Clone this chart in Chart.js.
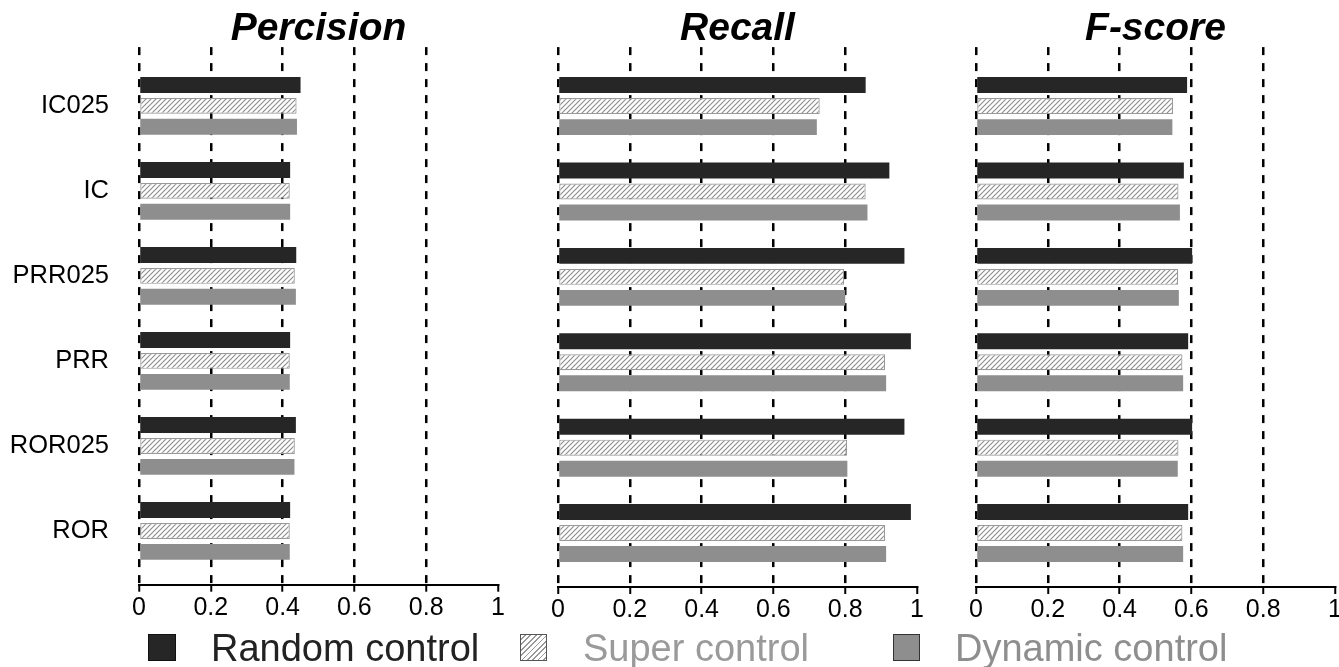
<!DOCTYPE html>
<html>
<head>
<meta charset="utf-8">
<script src="https://cdn.jsdelivr.net/npm/chart.js@4.4.1/dist/chart.umd.min.js"></script>
<style>
  html, body { margin: 0; padding: 0; background: #fff; overflow: hidden; width: 1339px; height: 667px; }
  .panel { position: absolute; top: 0; }
  .leg { position: absolute; font-family: "Liberation Sans", Arial, sans-serif; font-size: 38px; line-height: 38px; white-space: nowrap; }
  .sw { position: absolute; box-sizing: border-box; }
</style>
</head>
<body>
<div class="panel" style="left:0px;width:520px;height:630px"><canvas id="c1" width="520" height="630"></canvas></div>
<div class="panel" style="left:520px;width:420px;height:630px"><canvas id="c2" width="420" height="630"></canvas></div>
<div class="panel" style="left:930px;width:420px;height:630px"><canvas id="c3" width="420" height="630"></canvas></div>

<div class="sw" style="left:148px;top:634px;width:28px;height:27px;background:#262626;border:1px solid #111"></div>
<div class="leg" style="left:211px;top:629px;color:#222">Random control</div>
<div class="sw" style="left:520px;top:634px;width:27px;height:27px;border:1.5px solid #555;background:repeating-linear-gradient(135deg,#fff 0px,#fff 2.5px,#999 2.5px,#999 3.8px)"></div>
<div class="leg" style="left:583px;top:629px;color:#9a9a9a">Super control</div>
<div class="sw" style="left:893px;top:634px;width:27px;height:27px;background:#8e8e8e;border:1.5px solid #333"></div>
<div class="leg" style="left:955px;top:629px;color:#8e8e8e">Dynamic control</div>

<script>
// ---- data ----
const categories = ['IC025', 'IC', 'PRR025', 'PRR', 'ROR025', 'ROR'];
const seriesNames = ['Random control', 'Super control', 'Dynamic control'];
const xTickValues = [0, 0.2, 0.4, 0.6, 0.8, 1];

const precisionRandom  = [0.450, 0.421, 0.438, 0.421, 0.437, 0.421];
const precisionSuper   = [0.439, 0.420, 0.434, 0.420, 0.434, 0.420];
const precisionDynamic = [0.440, 0.421, 0.437, 0.420, 0.433, 0.420];

const recallRandom  = [0.857, 0.923, 0.965, 0.983, 0.965, 0.983];
const recallSuper   = [0.729, 0.857, 0.797, 0.911, 0.805, 0.911];
const recallDynamic = [0.721, 0.862, 0.800, 0.914, 0.806, 0.914];

const fscoreRandom  = [0.588, 0.579, 0.602, 0.591, 0.602, 0.591];
const fscoreSuper   = [0.549, 0.564, 0.563, 0.575, 0.564, 0.575];
const fscoreDynamic = [0.547, 0.568, 0.565, 0.577, 0.562, 0.577];

// ---- styles ----
const FONT = '"Liberation Sans", Arial, sans-serif';

function hatchPattern() {
  const c = document.createElement('canvas');
  c.width = 5; c.height = 5;
  const g = c.getContext('2d');
  g.fillStyle = '#ffffff';
  g.fillRect(0, 0, 5, 5);
  g.strokeStyle = '#8f8f8f';
  g.lineWidth = 1.2;
  g.beginPath();
  g.moveTo(-1, 6); g.lineTo(6, -1);
  g.moveTo(-1, 1); g.lineTo(1, -1);
  g.moveTo(4, 6); g.lineTo(6, 4);
  g.stroke();
  return g.createPattern(c, 'repeat');
}
const hatch = hatchPattern();

function pts(arr) { return arr.map((v, i) => ({ x: v, y: i })); }

function makeChart(id, title, rnd, sup, dyn, showY, pad) {
  const ctx = document.getElementById(id);
  return new Chart(ctx, {
    type: 'bar',
    data: {
      datasets: [
        { label: seriesNames[0], data: pts(rnd), backgroundColor: '#262626', borderColor: '#3a3a3a', borderWidth: 0 },
        { label: seriesNames[1], data: pts(sup), backgroundColor: hatch, borderColor: '#9a9a9a', borderWidth: 1.2, borderSkipped: false },
        { label: seriesNames[2], data: pts(dyn), backgroundColor: '#8e8e8e', borderColor: '#a5a5a5', borderWidth: 0 }
      ]
    },
    options: {
      indexAxis: 'y',
      responsive: false,
      animation: false,
      layout: { padding: pad },
      datasets: { bar: { categoryPercentage: 0.738, barPercentage: 0.76 } },
      plugins: {
        legend: { display: false },
        tooltip: { enabled: false },
        title: {
          display: true,
          text: title,
          fullSize: false,
          color: '#000',
          font: { family: FONT, size: 39, weight: 'bold', style: 'italic', lineHeight: 0.9 },
          padding: { top: 12, bottom: 0 }
        }
      },
      scales: {
        x: {
          type: 'linear',
          min: 0, max: 1,
          z: 1,
          afterBuildTicks: s => { s.ticks = xTickValues.map(v => ({ value: v })); },
          afterFit: s => { s.height = 43; },
          ticks: {
            color: '#000',
            padding: 1,
            font: { family: FONT, size: 25 },
            callback: v => String(Math.round(v * 10) / 10)
          },
          grid: {
            color: c => (c.tick && c.tick.value === 1) ? 'rgba(0,0,0,0)' : '#000',
            lineWidth: 2.5,
            drawTicks: true,
            tickLength: 7,
            tickColor: '#000',
            tickWidth: 2
          },
          border: { display: true, color: '#000', width: 2, dash: [8, 8] }
        },
        y: {
          type: 'linear',
          display: showY,
          reverse: true,
          offset: false,
          min: -0.691, max: 5.632,
          afterBuildTicks: s => { s.ticks = categories.map((c, i) => ({ value: i })); },
          afterFit: s => { if (showY) s.width = 139; },
          ticks: {
            color: '#000',
            padding: 30,
            font: { family: FONT, size: 25.5 },
            callback: v => categories[v]
          },
          grid: { display: false, drawTicks: false, offset: false },
          border: { display: false }
        }
      }
    }
  });
}

makeChart('c1', 'Percision', precisionRandom, precisionSuper, precisionDynamic, true, { left: 0, right: 22, top: 0, bottom: 0 });
makeChart('c2', 'Recall', recallRandom, recallSuper, recallDynamic, false, { left: 38, right: 23, top: 0, bottom: 0 });
makeChart('c3', 'F-score', fscoreRandom, fscoreSuper, fscoreDynamic, false, { left: 46, right: 15, top: 0, bottom: 0 });
</script>
</body>
</html>
